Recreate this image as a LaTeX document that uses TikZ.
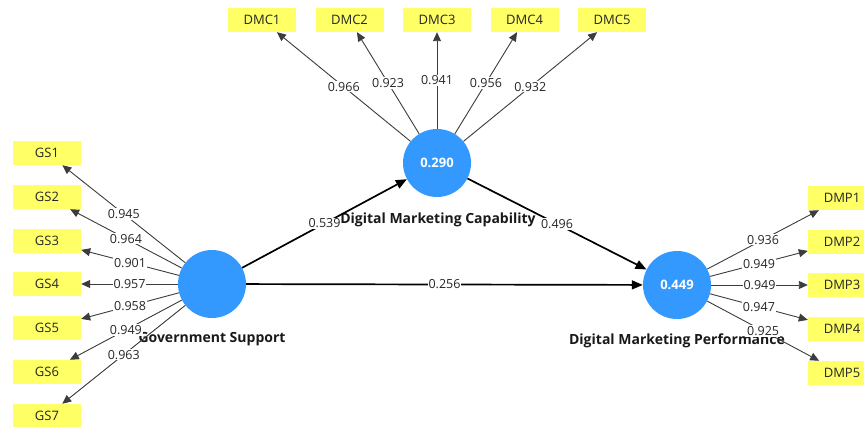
\documentclass[tikz,border=0pt]{standalone}
\usepackage{fontspec}
\setmainfont{Open Sans}
\usetikzlibrary{arrows.meta}

\definecolor{lvblue}{RGB}{51,153,255}
\definecolor{indyellow}{RGB}{255,255,102}
\definecolor{loadgray}{RGB}{60,60,60}

\begin{document}
\begin{tikzpicture}[x=1pt,y=-1pt,
  font=\fontsize{12.5}{14}\selectfont,
  construct/.style={circle, fill=lvblue, minimum size=68pt, inner sep=0pt,
    text=white, font=\fontsize{13}{15}\selectfont\bfseries},
  indicator/.style={fill=indyellow, minimum width=68pt, minimum height=24pt,
    inner sep=0pt, text=black!85, font=\fontsize{13}{15}\selectfont},
  cname/.style={font=\fontsize{14}{16}\selectfont\bfseries, text=black!90},
  loading/.style={draw=loadgray, line width=0.9pt,
    -{Triangle[length=9pt,width=8pt]}},
  structural/.style={draw=black, line width=1.7pt,
    -{Triangle[length=11pt,width=9pt]}},
  coef/.style={fill=white, inner sep=1pt, midway, text=black!85}
]
\useasboundingbox (0,0) rectangle (864,427);

% construct names (drawn first so the paths pass over them)
\node[cname] (gsname)  at (212,339) {Government Support};
\node[cname] (dmcname) at (438,220) {Digital Marketing Capability};
\node[cname] (dmpname) at (677,341) {Digital Marketing Performance};

% latent variables
\node[construct] (gs)  at (212,284) {};
\node[construct] (dmc) at (437,163) {0.290};
\node[construct] (dmp) at (677,285) {0.449};

% indicators of Government Support
\foreach \i/\yy in {1/153,2/197,3/241,4/284,5/328,6/372,7/416}
  \node[indicator] (gs\i) at (47,\yy) {GS\i};
% indicators of Digital Marketing Capability
\foreach \i/\xx in {1/262,2/349.5,3/437,4/524.5,5/612}
  \node[indicator] (dmc\i) at (\xx,20) {DMC\i};
% indicators of Digital Marketing Performance
\foreach \i/\yy in {1/198,2/242,3/285,4/329,5/373}
  \node[indicator] (dmp\i) at (842,\yy) {DMP\i};

% outer loadings
\foreach \i/\v in {1/0.945,2/0.964,3/0.901,4/0.957,5/0.958,6/0.949,7/0.963}
  \draw[loading] (gs) -- (gs\i) node[coef] {\v};
\foreach \i/\v in {1/0.966,2/0.923,3/0.941,4/0.956,5/0.932}
  \draw[loading] (dmc) -- (dmc\i) node[coef] {\v};
\foreach \i/\v in {1/0.936,2/0.949,3/0.949,4/0.947,5/0.925}
  \draw[loading] (dmp) -- (dmp\i) node[coef] {\v};

% path coefficients
\draw[structural] (gs) -- (dmc) node[coef] {0.539};
\draw[structural] (dmc) -- (dmp) node[coef] {0.496};
\draw[structural] (gs) -- (dmp) node[coef] {0.256};
\end{tikzpicture}
\end{document}
